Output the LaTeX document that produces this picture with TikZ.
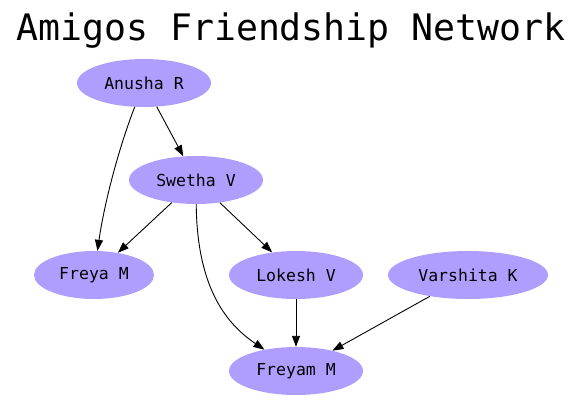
\documentclass[tikz,border=0pt]{standalone}
\usepackage{fontspec}
\setmonofont{DejaVu Sans Mono}
\usetikzlibrary{arrows.meta,shapes.geometric}
\definecolor{nodefill}{RGB}{176,158,255}
\begin{document}
\begin{tikzpicture}[x=1pt,y=1pt,
  person/.style={ellipse,fill=nodefill,draw=none,minimum height=48pt,inner sep=0pt,font=\ttfamily\fontsize{16.5}{18}\selectfont},
  link/.style={-{Triangle[length=11pt,width=8pt]},line width=0.9pt,black}]
\useasboundingbox (0,0) rectangle (583,-401);
\node[font=\ttfamily\fontsize{36.5}{40}\selectfont] (title) at (291,-31) {Amigos Friendship Network};
\node[person,minimum width=134pt] (an) at (144,-83) {Anusha R};
\node[person,minimum width=134pt] (sw) at (196,-180) {Swetha V};
\node[person,minimum width=120pt] (fr) at (94,-275) {Freya M};
\node[person,minimum width=134pt] (lo) at (296,-275) {Lokesh V};
\node[person,minimum width=160pt] (va) at (468,-275) {Varshita K};
\node[person,minimum width=134pt] (fm) at (296,-371) {Freyam M};
\draw[link] (an) -- (sw);
\draw[link] (an) .. controls (118,-150) and (104,-205) .. (fr);
\draw[link] (sw) -- (fr);
\draw[link] (sw) -- (lo);
\draw[link] (sw) .. controls (197,-290) and (228,-325) .. (fm);
\draw[link] (lo) -- (fm);
\draw[link] (va) -- (fm);
\end{tikzpicture}
\end{document}
